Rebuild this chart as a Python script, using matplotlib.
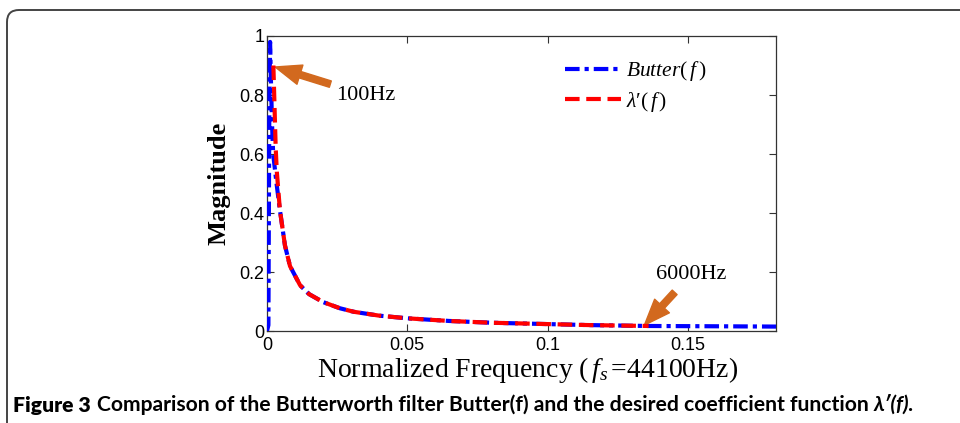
import matplotlib
matplotlib.use("Agg")
import matplotlib.pyplot as plt
from matplotlib.patches import FancyBboxPatch
from matplotlib.transforms import IdentityTransform

plt.rcParams['mathtext.fontset'] = 'custom'
plt.rcParams['mathtext.rm'] = 'Liberation Serif'
plt.rcParams['mathtext.it'] = 'Liberation Serif:italic'
plt.rcParams['mathtext.bf'] = 'Liberation Serif:bold'

# ---- data (normalized frequency, magnitude) ----
lambda_f = [0.00227, 0.0031, 0.0035, 0.0046, 0.0064, 0.0082, 0.0118, 0.0150, 0.020,
            0.026, 0.031, 0.040, 0.050, 0.065, 0.080, 0.0975, 0.115, 0.136]
lambda_v = [0.90, 0.62, 0.54, 0.41, 0.29, 0.22, 0.155, 0.125, 0.098,
            0.077, 0.065, 0.052, 0.043, 0.034, 0.028, 0.024, 0.020, 0.017]

butter_f = [0.0, 0.0005, 0.0008, 0.0011, 0.0014, 0.0018, 0.0022, 0.0034, 0.0046,
            0.0064, 0.0082, 0.0118, 0.0150, 0.020, 0.026, 0.031, 0.040, 0.050,
            0.065, 0.080, 0.0975, 0.115, 0.136, 0.160, 0.1814]
butter_v = [0.0, 0.02, 0.70, 0.98, 0.85, 0.70, 0.60, 0.50, 0.41,
            0.29, 0.22, 0.155, 0.125, 0.098, 0.077, 0.065, 0.052, 0.043,
            0.034, 0.028, 0.024, 0.020, 0.017, 0.016, 0.015]

xticks = [0, 0.05, 0.1, 0.15]
xtick_labels = ['0', '0.05', '0.1', '0.15']
yticks = [0, 0.2, 0.4, 0.6, 0.8, 1.0]
ytick_labels = ['0', '0.2', '0.4', '0.6', '0.8', '1']

W, H = 960, 423
fig = plt.figure(figsize=(W / 100, H / 100), dpi=100)
fig.patch.set_facecolor('white')

# outer rounded frame
frame = FancyBboxPatch((7, -60), 1000, H - 10 + 60, boxstyle='round,pad=0,rounding_size=12',
                       transform=IdentityTransform(), facecolor='none', edgecolor='#444444', lw=1.4)
fig.add_artist(frame)

ax = fig.add_axes([267 / W, 1 - 331 / H, (776 - 267) / W, (331 - 36) / H])

ax.plot(butter_f, butter_v, color='#0000FF', lw=3.0, linestyle=(0, (3.5, 1.2, 1.0, 1.2)),
        label=r'$Butter(\,f\,)$', zorder=3)
ax.plot(lambda_f, lambda_v, color='#FF0000', lw=3.0, linestyle=(0, (3.5, 1.6)),
        label=r"$\lambda$′$(\,f\,)$", zorder=4)

ax.set_xlim(0, 0.1814)
ax.set_ylim(0, 1)
ax.set_xticks(xticks)
ax.set_xticklabels(xtick_labels)
ax.set_yticks(yticks)
ax.set_yticklabels(ytick_labels)
ax.tick_params(direction='in', length=5, width=0.8, top=True, right=True, color='#333333',
               labelsize=13)
ax.tick_params(axis='x', pad=4)
ax.tick_params(axis='y', pad=2)
for lab in ax.get_xticklabels() + ax.get_yticklabels():
    lab.set_fontfamily('Liberation Sans')
for sp in ax.spines.values():
    sp.set_color('#333333')
    sp.set_linewidth(0.9)

ax.set_xlabel(r'Normalized Frequency ($\,f_s\,$=44100Hz)', fontfamily='Liberation Serif',
              fontsize=20, labelpad=0)
ax.xaxis.set_label_coords(0.512, -0.082)
ax.xaxis.label.set_va('top')
ax.set_ylabel('Magnitude', fontfamily='Liberation Serif', fontweight='bold', fontsize=19,
              labelpad=6)

leg = ax.legend(loc='upper left', bbox_to_anchor=(0.560, 0.965), frameon=False,
                prop={'family': 'Liberation Serif', 'size': 15.5}, handlelength=2.6,
                handletextpad=0.25, labelspacing=0.3, borderaxespad=0.2)

orange = '#D2691E'
astyle = 'simple,head_length=1.1,head_width=0.85,tail_width=0.28'
ax.annotate('100Hz', xy=(0.0029, 0.895), xytext=(0.0245, 0.80), color='black',
            fontfamily='Liberation Serif', fontsize=16, va='center', ha='left',
            arrowprops=dict(arrowstyle=astyle, color=orange, mutation_scale=17,
                            shrinkA=2, shrinkB=0))
ax.annotate('6000Hz', xy=(0.1345, 0.02), xytext=(0.151, 0.19), color='black',
            fontfamily='Liberation Serif', fontsize=16, va='center', ha='center',
            arrowprops=dict(arrowstyle=astyle, color=orange, mutation_scale=17,
                            shrinkA=5, shrinkB=0))

# caption
fig.canvas.draw()
r = fig.canvas.get_renderer()
cy = 1 - 405 / H
cfs = 15.2
t1 = fig.text(13 / W, cy, 'Figure 3', fontfamily=['Lato', 'DejaVu Sans'],
              fontweight='heavy', fontsize=cfs, va='center', ha='left')
bb = t1.get_window_extent(r)
t2 = fig.text((bb.x1 + 6) / W, cy,
              'Comparison of the Butterworth filter Butter(f) and the desired coefficient function',
              fontfamily=['Lato', 'DejaVu Sans'], fontweight='bold', fontsize=cfs,
              va='center', ha='left')
bb2 = t2.get_window_extent(r)
t3 = fig.text((bb2.x1 + 5) / W, cy, "\u03bb\u2032(f).",
              fontfamily=['Lato', 'DejaVu Sans'], fontweight='bold', style='italic',
              fontsize=cfs, va='center', ha='left')

fig.savefig('out.png', dpi=100)
